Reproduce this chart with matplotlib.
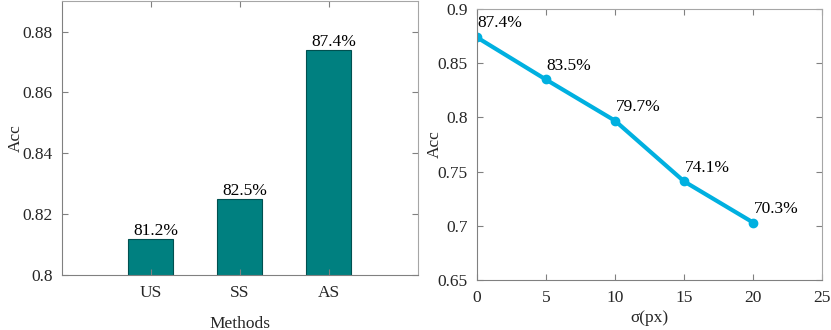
import matplotlib
matplotlib.use("Agg")
import matplotlib.pyplot as plt

plt.rcParams['font.family'] = ['Liberation Serif', 'DejaVu Serif']

methods = ['US', 'SS', 'AS']
method_acc = [0.812, 0.825, 0.874]
method_labels = ['81.2%', '82.5%', '87.4%']

sigma = [0, 5, 10, 15, 20]
sigma_acc = [0.874, 0.835, 0.797, 0.741, 0.703]
sigma_labels = ['87.4%', '83.5%', '79.7%', '74.1%', '70.3%']

bar_color = '#008080'
line_color = '#00B0E0'
axis_color = '#808080'
axis_color_light = '#a6a6a6'
text_color = '#262626'
fs = 12.5

fig = plt.figure(figsize=(8.31, 3.30), dpi=100)
ax1 = fig.add_axes([0.0742, 0.1658, 0.4285, 0.831])
ax2 = fig.add_axes([0.5736, 0.1515, 0.4159, 0.8212])

def style(ax):
    for k, s in ax.spines.items():
        s.set_color(axis_color if k in ('left', 'bottom') else axis_color_light)
        s.set_linewidth(0.8)
    ax.tick_params(direction='in', top=True, right=True, colors=axis_color,
                   labelcolor=text_color, labelsize=fs, length=4, width=0.8)
    ax.tick_params(axis='y', pad=6.5)
    ax.tick_params(axis='x', pad=7)

xpos = list(range(1, len(methods) + 1))
ax1.bar(xpos, method_acc, width=0.5, color=bar_color, edgecolor='#005050', linewidth=0.8)
for x, v, t in zip(xpos, method_acc, method_labels):
    ax1.annotate(t, (x, v), xytext=(3.5, 3), textcoords='offset points',
                 ha='center', va='baseline', fontsize=fs, color='black')
ax1.set_xlim(0, 4)
ax1.set_ylim(0.8, 0.89)
ax1.set_xticks(xpos)
ax1.set_xticklabels(methods)
ax1.set_yticks([0.8, 0.82, 0.84, 0.86, 0.88])
ax1.set_yticklabels(['0.8', '0.82', '0.84', '0.86', '0.88'])
ax1.set_xlabel('Methods', fontsize=fs, color=text_color, labelpad=10.5)
ax1.set_ylabel('Acc', fontsize=fs, color=text_color)
ax1.yaxis.set_label_coords(-0.106, 0.5)
style(ax1)

ax2.plot(sigma, sigma_acc, color=line_color, linewidth=3, marker='o', markersize=6)
for x, v, t in zip(sigma, sigma_acc, sigma_labels):
    ax2.annotate(t, (x, v), xytext=(0.5, 7), textcoords='offset points',
                 ha='left', va='baseline', fontsize=fs, color='black')
ax2.set_xlim(0, 25)
ax2.set_ylim(0.65, 0.9)
ax2.set_xticks([0, 5, 10, 15, 20, 25])
ax2.set_yticks([0.65, 0.7, 0.75, 0.8, 0.85, 0.9])
ax2.set_yticklabels(['0.65', '0.7', '0.75', '0.8', '0.85', '0.9'])
ax2.set_xlabel('σ(px)', fontsize=fs, color=text_color, labelpad=3)
ax2.set_ylabel('Acc', fontsize=fs, color=text_color)
ax2.yaxis.set_label_coords(-0.098, 0.5)
style(ax2)

fig.savefig('out.png', dpi=100)
